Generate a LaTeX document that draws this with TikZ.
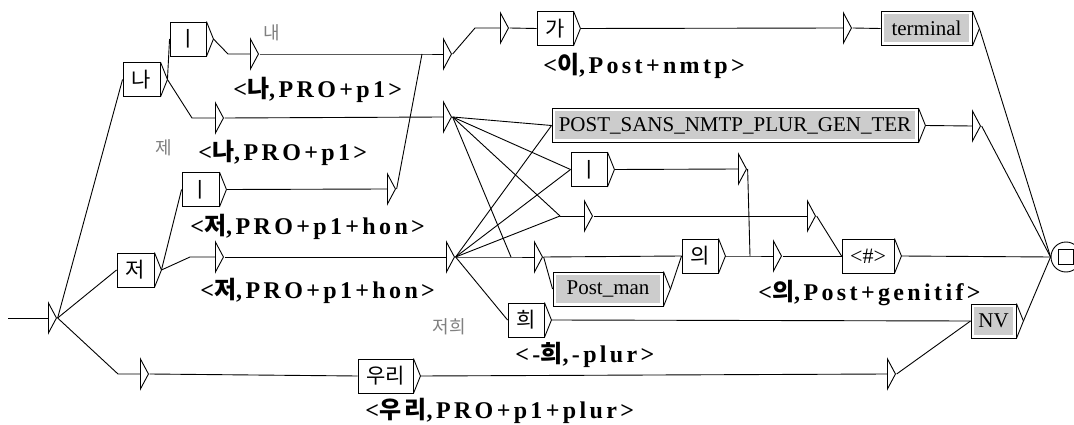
\documentclass[tikz,border=0pt]{standalone}
\usepackage{fontspec}
\setmainfont{Liberation Serif}
\newfontfamily\kr{Noto Sans CJK KR}
\newfontfamily\lab{Liberation Serif}[LetterSpace=14]
\newfontfamily\krlab{Noto Sans CJK KR}[LetterSpace=14]
\usetikzlibrary{shapes.geometric}

\newcommand{\hg}[1]{{\krlab #1}}

\begin{document}
\begin{tikzpicture}[x=1pt, y=-1pt, line width=0.9pt,
	box/.style={draw, fill=white, inner sep=0pt, minimum height=34pt, font=\kr\fontsize{21}{21}\selectfont,
		append after command={
			(\tikzlastnode.north east) edge ([xshift=7pt]\tikzlastnode.east)
			([xshift=7pt]\tikzlastnode.east) edge (\tikzlastnode.south east)
			([xshift=7pt]\tikzlastnode.east) coordinate (\tikzlastnode-out)}},
	graphbox/.style={box, font=\fontsize{21}{21}\selectfont,
		path picture={\fill[black!20] ([shift={(3pt,-3pt)}]path picture bounding box.north west) rectangle ([shift={(-3pt,3pt)}]path picture bounding box.south east);}},
	eps/.style={draw, isosceles triangle, isosceles triangle stretches, inner sep=0pt, minimum width=30pt, minimum height=8pt, anchor=west},
	outlabel/.style={anchor=west, inner sep=0pt, font=\lab\bfseries\fontsize{24}{24}\selectfont},
	comment/.style={text=black!50, inner sep=0pt, font=\kr\fontsize{18}{18}\selectfont}
	]
	
	\path[use as bounding box, fill=white] (0,0) rectangle (1074,425);
	
	%initial and final states
	\coordinate (start) at (8,318);
	\node[eps] (e0) at (48,318){};
	\node[draw, circle, inner sep=0pt, minimum size=30pt] (fin) at (1066,257){};
	\node[draw, inner sep=0pt, minimum size=15pt] (finsq) at (fin){};
	
	%pronoun boxes
	\node[box, minimum width=37pt] (na) at (141.5,79.5){나};
	\node[box, minimum width=36pt] (i1) at (188,39){ㅣ};
	\node[box, minimum width=37pt] (i2) at (200.5,189.5){ㅣ};
	\node[box, minimum width=37pt] (jeo) at (135.5,270){저};
	\node[box, minimum width=36pt] (hui) at (526,320){희};
	\node[box, minimum width=55pt] (uri) at (385.5,376){우리};
	
	%postposition boxes
	\node[box, minimum width=36pt] (ga) at (555,28.5){가};
	\node[box, minimum width=36pt] (i3) at (589,169.5){ㅣ};
	\node[box, minimum width=36pt] (ui) at (700,256){의};
	\node[box, minimum width=52pt, font=\fontsize{22}{22}\selectfont] (sharp) at (868,256){<\#>};
	
	%subgraph boxes
	\node[graphbox, minimum width=91pt] (term) at (926.5,28.5){terminal};
	\node[graphbox, minimum width=366pt] (post) at (735,125.5){POST\_SANS\_NMTP\_PLUR\_GEN\_TER};
	\node[graphbox, minimum width=110pt] (man) at (608,289){Post\_man};
	\node[graphbox, minimum width=45pt] (nv) at (993.5,321){NV};
	
	%empty boxes
	\node[eps] (e1) at (250,54){};
	\node[eps] (e2) at (215,118){};
	\node[eps] (e3) at (387,189){};
	\node[eps] (e4) at (215,257){};
	\node[eps] (e5) at (140,374){};
	\node[eps] (e6) at (443,54){};
	\node[eps] (e7) at (500,28){};
	\node[eps] (e8) at (843,28){};
	\node[eps] (e9) at (443,117){};
	\node[eps] (e10) at (446,257){};
	\node[eps] (e11) at (584,216){};
	\node[eps] (e12) at (534,257){};
	\node[eps] (e13) at (773,256){};
	\node[eps] (e14) at (807,216){};
	\node[eps] (e15) at (738,169){};
	\node[eps] (e16) at (972,126){};
	\node[eps] (e17) at (887,374){};
	
	%box inputs
	\coordinate (e1in) at (228,54);
	\coordinate (e2in) at (192,118);
	\coordinate (e4in) at (190,257);
	\coordinate (e5in) at (118,374);
	\coordinate (e6in) at (422,54);
	\coordinate (e7in) at (475,28);
	\coordinate (e11in) at (560,216);
	\coordinate (e12in) at (511,257);
	\coordinate (e13in) at (750,256);
	
	%outputs
	\node[outlabel] (o1) at (233,90){<\hg{나},PRO+p1>};
	\node[outlabel] (o2) at (198,153){<\hg{나},PRO+p1>};
	\node[outlabel] (o3) at (190,227){<\hg{저},PRO+p1+hon>};
	\node[outlabel] (o4) at (200,291){<\hg{저},PRO+p1+hon>};
	\node[outlabel] (o5) at (543,66){<\hg{이},Post+nmtp>};
	\node[outlabel] (o6) at (758,293){<\hg{의},Post+genitif>};
	\node[outlabel] (o7) at (515,355){<-\hg{희},-plur>};
	\node[outlabel] (o8) at (365,411){<\hg{우리},PRO+p1+plur>};
	
	%comments
	\node[comment] (c1) at (272,33){내};
	\node[comment] (c2) at (164,148){제};
	\node[comment] (c3) at (449,327){저희};
	
	\draw (start) -- (e0.west);
	\draw (e0.east) -- (na.west);
	\draw (e0.east) -- (jeo.west);
	\draw (e0.east) -- (e5in) -- (e5.west);
	
	\draw (na-out) -- (i1.west);
	\draw (na-out) -- (e2in) -- (e2.west);
	\draw (i1-out) -- (e1in) -- (e1.west);
	\draw (e1.east) -- (e6in) -- (e6.west);
	\draw (e2.east) -- (e9.west);
	
	\draw (jeo-out) -- (i2.west);
	\draw (jeo-out) -- (e4in) -- (e4.west);
	\draw (i2-out) -- (e3.west);
	\draw (e3.east) -- (e6in);
	\draw (e4.east) -- (e10.west);
	
	\draw (e5.east) -- (uri.west);
	\draw (uri-out) -- (e17.west);
	\draw (e17.east) -- (nv.west);
	
	\draw (e6.east) -- (e7in) -- (e7.west);
	\draw (e7.east) -- (ga.west);
	\draw (ga-out) -- (e8.west);
	\draw (e8.east) -- (term.west);
	\draw (term-out) -- (fin.west);
	
	\draw (e9.east) -- (post.west);
	\draw (e9.east) -- (i3.west);
	\draw (e9.east) -- (e11in);
	\draw (e9.east) -- (e12in);
	
	\draw (e10.east) -- (post.west);
	\draw (e10.east) -- (i3.west);
	\draw (e10.east) -- (e11in);
	\draw (e10.east) -- (e12in) -- (e12.west);
	\draw (e10.east) -- (hui.west);
	
	\draw (post-out) -- (e16.west);
	\draw (e16.east) -- (fin.west);
	
	\draw (i3-out) -- (e15.west);
	\draw (e15.east) -- (e13in);
	
	\draw (e11in) -- (e11.west);
	\draw (e11.east) -- (e14.west);
	\draw (e14.east) -- (sharp.west);
	
	\draw (e12.east) -- (man.west);
	\draw (e12.east) -- (ui.west);
	\draw (man-out) -- (ui.west);
	\draw (ui-out) -- (e13in) -- (e13.west);
	\draw (e13.east) -- (sharp.west);
	\draw (sharp-out) -- (fin.west);
	
	\draw (hui-out) -- (nv.west);
	\draw (nv-out) -- (fin.west);
	
\end{tikzpicture}
\end{document}
